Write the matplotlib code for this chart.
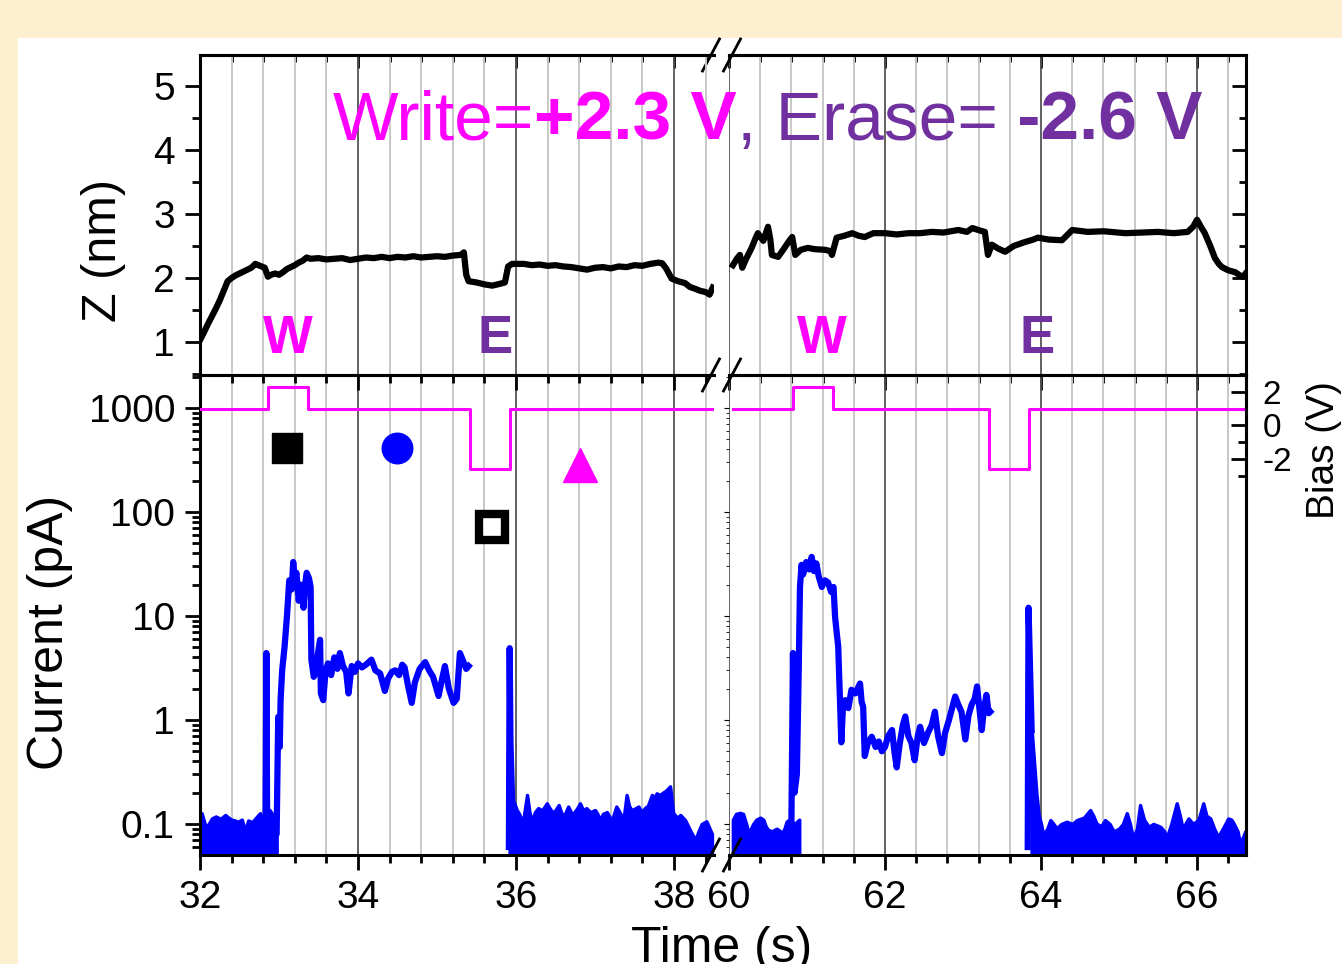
import matplotlib.pyplot as plt
from matplotlib.ticker import MultipleLocator, FixedLocator, LogLocator, NullFormatter, FuncFormatter
from matplotlib.patches import Rectangle
from matplotlib.lines import Line2D

plt.rcParams['font.family'] = ['Liberation Sans', 'DejaVu Sans']

MAG = '#ff00ff'
PUR = '#7030a0'

# ---- data ----
# tip height Z (nm), first time window
z_left_t = [32.00, 32.05, 32.10, 32.15, 32.20, 32.25, 32.30, 32.35, 32.40, 32.45, 32.50, 32.55,
            32.60, 32.65, 32.70, 32.74, 32.78, 32.82, 32.86, 32.90, 32.95, 33.00, 33.05, 33.10,
            33.15, 33.20, 33.25, 33.30, 33.35, 33.40, 33.50, 33.60, 33.70, 33.80, 33.90, 34.00,
            34.10, 34.20, 34.30, 34.40, 34.50, 34.60, 34.70, 34.80, 34.90, 35.00, 35.10, 35.20,
            35.30, 35.34, 35.37, 35.40, 35.50, 35.60, 35.70, 35.80, 35.86, 35.90, 35.95, 36.10,
            36.20, 36.30, 36.40, 36.50, 36.60, 36.70, 36.80, 36.90, 37.00, 37.10, 37.20, 37.30,
            37.40, 37.50, 37.60, 37.70, 37.80, 37.85, 37.90, 37.97, 38.05, 38.14, 38.20, 38.27,
            38.33, 38.40, 38.45, 38.49]
z_left = [1.03, 1.15, 1.28, 1.40, 1.52, 1.65, 1.80, 1.95, 2.00, 2.04, 2.07, 2.10,
          2.13, 2.16, 2.22, 2.20, 2.18, 2.16, 2.02, 2.05, 2.07, 2.05, 2.09, 2.14,
          2.17, 2.20, 2.24, 2.27, 2.32, 2.30, 2.31, 2.29, 2.30, 2.31, 2.28, 2.30,
          2.32, 2.31, 2.33, 2.31, 2.33, 2.32, 2.34, 2.32, 2.33, 2.34, 2.33, 2.35,
          2.36, 2.40, 2.05, 1.95, 1.93, 1.90, 1.88, 1.91, 1.93, 2.18, 2.22, 2.22,
          2.20, 2.21, 2.19, 2.20, 2.18, 2.17, 2.15, 2.13, 2.16, 2.17, 2.15, 2.18,
          2.17, 2.20, 2.19, 2.22, 2.24, 2.23, 2.15, 1.99, 1.95, 1.92, 1.86, 1.83,
          1.80, 1.78, 1.74, 1.85]

# tip height Z (nm), second time window
z_right_t = [60.05, 60.10, 60.14, 60.17, 60.22, 60.29, 60.34, 60.37, 60.44, 60.50, 60.53, 60.55,
             60.63, 60.70, 60.76, 60.81, 60.85, 60.92, 61.01, 61.10, 61.23, 61.30, 61.32, 61.38,
             61.48, 61.58, 61.66, 61.74, 61.85, 62.00, 62.15, 62.30, 62.45, 62.60, 62.75, 62.94,
             63.05, 63.12, 63.22, 63.28, 63.32, 63.37, 63.45, 63.54, 63.65, 63.79, 63.90, 63.96,
             64.10, 64.27, 64.36, 64.40, 64.60, 64.80, 65.08, 65.30, 65.50, 65.70, 65.88, 65.95,
             66.00, 66.05, 66.10, 66.17, 66.23, 66.28, 66.32, 66.40, 66.49, 66.55, 66.59, 66.63]
z_right = [2.20, 2.30, 2.36, 2.16, 2.30, 2.47, 2.62, 2.70, 2.58, 2.80, 2.60, 2.36,
           2.33, 2.45, 2.56, 2.64, 2.36, 2.44, 2.47, 2.45, 2.44, 2.42, 2.36, 2.63,
           2.66, 2.70, 2.66, 2.64, 2.70, 2.70, 2.68, 2.70, 2.70, 2.72, 2.71, 2.75,
           2.72, 2.78, 2.74, 2.72, 2.36, 2.52, 2.46, 2.41, 2.50, 2.56, 2.60, 2.63,
           2.60, 2.59, 2.70, 2.75, 2.72, 2.73, 2.70, 2.71, 2.72, 2.70, 2.72, 2.80,
           2.91, 2.80, 2.70, 2.50, 2.31, 2.22, 2.17, 2.12, 2.09, 2.04, 2.02, 2.08]

# current (pA): noise floor envelopes (trace fills down to the axis)
floor1_t = [32.00, 32.02, 32.07, 32.11, 32.15, 32.20, 32.26, 32.32, 32.36, 32.40, 32.44, 32.48,
            32.53, 32.57, 32.61, 32.66, 32.70, 32.76, 32.80, 32.88, 32.93, 32.97]
floor1 = [0.10, 0.127, 0.094, 0.10, 0.113, 0.118, 0.112, 0.122, 0.115, 0.110, 0.108, 0.105,
          0.110, 0.085, 0.108, 0.104, 0.113, 0.127, 0.110, 0.136, 0.120, 0.127]
floor2_t = [35.92, 35.95, 36.01, 36.04, 36.07, 36.10, 36.14, 36.17, 36.20, 36.24, 36.28, 36.33,
            36.39, 36.43, 36.47, 36.51, 36.54, 36.57, 36.60, 36.63, 36.66, 36.70, 36.73, 36.77,
            36.81, 36.85, 36.89, 36.94, 37.00, 37.03, 37.06, 37.10, 37.15, 37.18, 37.21, 37.24,
            37.27, 37.31, 37.34, 37.37, 37.40, 37.43, 37.46, 37.50, 37.55, 37.59, 37.63, 37.67,
            37.72, 37.75, 37.78, 37.82, 37.86, 37.90, 37.95, 37.99, 38.04, 38.08, 38.14, 38.20,
            38.27, 38.31, 38.35, 38.41, 38.48]
floor2 = [0.20, 0.18, 0.136, 0.125, 0.106, 0.12, 0.19, 0.13, 0.106, 0.13, 0.142, 0.135,
          0.158, 0.14, 0.127, 0.14, 0.152, 0.13, 0.117, 0.13, 0.147, 0.128, 0.127, 0.14,
          0.158, 0.135, 0.142, 0.13, 0.136, 0.125, 0.109, 0.125, 0.13, 0.118, 0.106, 0.125,
          0.147, 0.13, 0.117, 0.125, 0.19, 0.15, 0.136, 0.14, 0.147, 0.13, 0.142, 0.15,
          0.19, 0.18, 0.197, 0.19, 0.20, 0.21, 0.23, 0.127, 0.115, 0.122, 0.109, 0.088,
          0.07, 0.085, 0.10, 0.106, 0.08]
floor3_t = [60.05, 60.09, 60.14, 60.18, 60.22, 60.25, 60.28, 60.31, 60.35, 60.40, 60.44, 60.47,
            60.50, 60.55, 60.61, 60.65, 60.68, 60.71, 60.74, 60.78, 60.84, 60.90]
floor3 = [0.11, 0.125, 0.128, 0.125, 0.10, 0.081, 0.09, 0.10, 0.11, 0.115, 0.11, 0.095,
          0.088, 0.085, 0.09, 0.086, 0.081, 0.09, 0.106, 0.11, 0.10, 0.11]
floor4_t = [63.88, 63.94, 63.97, 64.00, 64.03, 64.08, 64.12, 64.16, 64.20, 64.26, 64.33, 64.40,
            64.46, 64.55, 64.63, 64.67, 64.71, 64.77, 64.82, 64.88, 64.93, 65.00, 65.05, 65.10,
            65.14, 65.18, 65.23, 65.27, 65.32, 65.38, 65.44, 65.53, 65.58, 65.61, 65.67, 65.74,
            65.78, 65.82, 65.85, 65.89, 65.95, 66.02, 66.08, 66.12, 66.17, 66.22, 66.27, 66.33,
            66.40, 66.44, 66.47, 66.52, 66.55, 66.59, 66.62]
floor4 = [0.8, 0.20, 0.122, 0.10, 0.078, 0.09, 0.109, 0.10, 0.091, 0.10, 0.105, 0.10,
          0.109, 0.115, 0.136, 0.12, 0.101, 0.095, 0.109, 0.10, 0.085, 0.09, 0.10, 0.127,
          0.10, 0.073, 0.09, 0.152, 0.11, 0.094, 0.10, 0.094, 0.085, 0.073, 0.10, 0.158,
          0.12, 0.087, 0.10, 0.113, 0.10, 0.11, 0.158, 0.12, 0.113, 0.09, 0.075, 0.09,
          0.113, 0.11, 0.101, 0.085, 0.065, 0.075, 0.085]

# current (pA): traces above the floor (spikes and the high state)
cur1_t = [32.83, 32.84, 32.85, 32.97, 32.99, 33.01, 33.02, 33.04, 33.07, 33.10, 33.13, 33.16,
          33.18, 33.20, 33.22, 33.25, 33.27, 33.29, 33.31, 33.33, 33.35, 33.38, 33.40, 33.41,
          33.44, 33.46, 33.49, 33.52, 33.53, 33.56, 33.59, 33.62, 33.66, 33.70, 33.74, 33.77,
          33.81, 33.85, 33.88, 33.92, 33.96, 34.00, 34.05, 34.10, 34.17, 34.22, 34.28, 34.34,
          34.38, 34.43, 34.47, 34.52, 34.56, 34.59, 34.63, 34.68, 34.72, 34.78, 34.85, 34.90,
          34.95, 35.02, 35.06, 35.10, 35.15, 35.21, 35.25, 35.29, 35.33, 35.37, 35.40]
cur1 = [0.10, 4.4, 0.10, 0.08, 1.07, 0.55, 1.55, 3.0, 5.0, 9.8, 22, 18,
        33, 22, 26, 14, 20, 17, 12, 20, 26, 23, 19, 3.8,
        2.6, 2.8, 4.2, 5.9, 1.8, 1.55, 3.0, 3.5, 2.7, 4.0, 3.1, 4.4,
        3.3, 2.9, 1.8, 3.3, 2.9, 3.5, 3.2, 3.4, 3.8, 3.0, 2.8, 1.9,
        2.5, 2.9, 3.0, 2.7, 3.4, 3.2, 2.2, 1.46, 2.3, 3.1, 3.6, 3.0,
        2.6, 1.7, 2.4, 3.3, 2.0, 1.46, 1.6, 4.4, 3.7, 3.1, 3.3]
cur2_t = [35.91, 35.92, 35.93, 35.95]
cur2 = [0.06, 4.9, 0.6, 0.18]
cur3_t = [60.80, 60.82, 60.84, 60.87, 60.89, 60.91, 60.93, 60.95, 60.99, 61.03, 61.06, 61.09,
          61.12, 61.15, 61.19, 61.23, 61.27, 61.31, 61.34, 61.36, 61.38, 61.40, 61.42, 61.44,
          61.46, 61.49, 61.53, 61.57, 61.62, 61.68, 61.70, 61.72, 61.74, 61.78, 61.83, 61.88,
          61.92, 61.96, 62.00, 62.04, 62.09, 62.12, 62.15, 62.19, 62.23, 62.26, 62.30, 62.34,
          62.38, 62.42, 62.45, 62.50, 62.55, 62.60, 62.64, 62.68, 62.73, 62.77, 62.82, 62.86,
          62.90, 62.94, 62.98, 63.03, 63.07, 63.11, 63.15, 63.18, 63.21, 63.24, 63.27, 63.30,
          63.33, 63.35]
cur3 = [0.10, 4.4, 0.2, 0.3, 2.0, 19, 31, 25, 33, 28, 37, 27,
        32, 24, 19, 22, 21, 17, 19, 9.8, 7.0, 5.1, 1.8, 0.61,
        1.3, 1.55, 1.3, 1.95, 1.8, 2.24, 1.5, 1.34, 0.45, 0.6, 0.69, 0.55,
        0.62, 0.5, 0.55, 0.7, 0.8, 0.5, 0.35, 0.6, 0.9, 1.08, 0.7, 0.6,
        0.41, 0.7, 0.86, 0.6, 0.75, 0.9, 1.2, 0.7, 0.48, 0.75, 1.0, 1.3,
        1.68, 1.4, 1.2, 0.65, 1.1, 1.4, 1.6, 2.1, 1.3, 0.8, 1.3, 1.74,
        1.16, 1.2]
cur4_t = [63.83, 63.84, 63.86, 63.88]
cur4 = [0.06, 12, 3.0, 0.8]

# tip bias (V)
bias_left_t = [32.00, 32.86, 33.37, 35.42, 35.92, 38.50]
bias_left = [1.0, 2.3, 1.0, -2.6, 1.0, 1.0]
bias_right_t = [60.05, 60.82, 61.33, 63.33, 63.85, 66.63]
bias_right = [1.0, 2.3, 1.0, -2.6, 1.0, 1.0]

# state symbols (time s, current pA)
sym_t = [33.10, 34.49, 35.70, 36.81]
sym_i = [412, 412, 72, 283]

# ---- layout ----
W, H = 1342, 964
fig = plt.figure(figsize=(W / 100, H / 100), dpi=100, facecolor='#fdf0d0')
fig.patches.append(Rectangle((18 / W, 0), 1, 1 - 38 / H, transform=fig.transFigure,
                             facecolor='white', edgecolor='none', zorder=-5))


def box(x0, x1, y0, y1):
    return [x0 / W, 1 - y1 / H, (x1 - x0) / W, (y1 - y0) / H]


axz_l = fig.add_axes(box(200, 714, 55, 375))
axz_r = fig.add_axes(box(729, 1246, 55, 375))
axi_l = fig.add_axes(box(200, 714, 375, 855))
axi_r = fig.add_axes(box(729, 1246, 375, 855))
axz_l.set_zorder(2)  # keeps the title text above the right panel's grid

XL = (32, 32 + 514 / 79)
XR = (60, 60 + 517 / 78)

for ax, xl in [(axz_l, XL), (axz_r, XR), (axi_l, XL), (axi_r, XR)]:
    ax.set_facecolor('none')
    ax.set_xlim(*xl)
    ax.set_axisbelow(True)
    ax.xaxis.set_major_locator(MultipleLocator(2))
    ax.xaxis.set_minor_locator(MultipleLocator(0.4))
    ax.grid(which='minor', axis='x', color='#c8c8c8', lw=1.4)
    ax.grid(which='major', axis='x', color='#555555', lw=1.3)
    for s in ax.spines.values():
        s.set_linewidth(2.2)
    ax.tick_params(axis='x', which='both', direction='out', top=False, bottom=True,
                   width=2, labelsize=28, pad=7)
    ax.tick_params(axis='x', which='major', length=11)
    ax.tick_params(axis='x', which='minor', length=6)

for ax in (axz_l, axi_l):
    ax.spines['right'].set_visible(False)
for ax in (axz_r, axi_r):
    ax.spines['left'].set_visible(False)

# top panels: Z
for ax in (axz_l, axz_r):
    ax.set_ylim(0.484, 5.484)
    ax.yaxis.set_major_locator(MultipleLocator(1))
    ax.yaxis.set_minor_locator(MultipleLocator(0.5))
    ax.tick_params(axis='x', labelbottom=False)
    sec = ax.secondary_xaxis('top')
    sec.xaxis.set_major_locator(MultipleLocator(2))
    sec.xaxis.set_minor_locator(MultipleLocator(0.4))
    sec.tick_params(which='both', direction='in', labeltop=False, width=2)
    sec.tick_params(which='major', length=9)
    sec.tick_params(which='minor', length=5)
    sec.spines['top'].set_linewidth(2.2)

axz_l.tick_params(axis='y', which='both', direction='out', left=True, right=False,
                  width=2, labelsize=28, pad=7)
axz_l.tick_params(axis='y', which='major', length=11)
axz_l.tick_params(axis='y', which='minor', length=6)
axz_r.tick_params(axis='y', which='both', direction='in', left=False, right=True,
                  labelleft=False, width=2)
axz_r.tick_params(axis='y', which='major', length=10)
axz_r.tick_params(axis='y', which='minor', length=5)

axz_l.plot(z_left_t, z_left, color='black', lw=4.5, solid_joinstyle='round')
axz_r.plot(z_right_t, z_right, color='black', lw=4.5, solid_joinstyle='round')

# bottom panels: current (log)
for ax in (axi_l, axi_r):
    ax.set_yscale('log')
    ax.set_ylim(0.0503, 2075)
    ax.yaxis.set_major_locator(LogLocator(base=10, numticks=12))
    ax.yaxis.set_minor_locator(LogLocator(base=10, subs=range(2, 10), numticks=12))
    ax.yaxis.set_major_formatter(FuncFormatter(lambda v, p: f'{v:g}'))
    ax.yaxis.set_minor_formatter(NullFormatter())

axi_l.tick_params(axis='y', which='both', direction='out', left=True, right=False,
                  width=2, labelsize=28, pad=7)
axi_l.tick_params(axis='y', which='major', length=11)
axi_l.tick_params(axis='y', which='minor', length=6)
axi_r.tick_params(axis='y', which='both', left=False, right=False, labelleft=False)

for ax, ft, fv in [(axi_l, floor1_t, floor1), (axi_l, floor2_t, floor2),
                   (axi_r, floor3_t, floor3), (axi_r, floor4_t, floor4)]:
    ax.fill_between(ft, fv, 1e-4, color='blue', lw=2.5, edgecolor='blue')
for ax, ct, cv in [(axi_l, cur1_t, cur1), (axi_l, cur2_t, cur2),
                   (axi_r, cur3_t, cur3), (axi_r, cur4_t, cur4)]:
    ax.plot(ct, cv, color='blue', lw=4.5, solid_joinstyle='round')

# bias (right axis)
bl = axi_l.twinx()
br = axi_r.twinx()
for ax in (bl, br):
    ax.set_ylim(-25.64, 3.01)
bl.set_axis_off()
for s in ('left', 'top', 'bottom'):
    br.spines[s].set_visible(False)
br.spines['right'].set_linewidth(2.2)
br.set_yticks([-2, 0, 2], labels=['-2', '0', '2'])
br.yaxis.set_minor_locator(FixedLocator([-3, -1, 1]))
br.tick_params(axis='y', which='both', direction='in', width=2, labelsize=24, pad=12)
br.tick_params(axis='y', which='major', length=11)
br.tick_params(axis='y', which='minor', length=6)
bl.plot(bias_left_t, bias_left, color=MAG, lw=2.2, drawstyle='steps-post')
br.plot(bias_right_t, bias_right, color=MAG, lw=2.2, drawstyle='steps-post')

# state symbols
axi_l.plot(sym_t[0], sym_i[0], 's', ms=21, color='black', zorder=5)
axi_l.plot(sym_t[1], sym_i[1], 'o', ms=22, color='blue', zorder=5)
axi_l.plot(sym_t[2], sym_i[2], 's', ms=19, mfc='white', mec='black', mew=6, zorder=5)
axi_l.plot(sym_t[3], sym_i[3], '^', ms=24, color=MAG, zorder=5)

# W / E labels
axz_l.text(33.11, 0.83, 'W', color=MAG, fontsize=38, fontweight='bold', ha='center', va='baseline')
axz_l.text(35.73, 0.83, 'E', color=PUR, fontsize=38, fontweight='bold', ha='center', va='baseline')
axz_r.text(61.19, 0.83, 'W', color=MAG, fontsize=38, fontweight='bold', ha='center', va='baseline')
axz_r.text(63.95, 0.83, 'E', color=PUR, fontsize=38, fontweight='bold', ha='center', va='baseline')

# title line with mixed styles
t1 = fig.text(333 / W, 1 - 140 / H, 'Write=', color=MAG, fontsize=50, va='baseline')
t2 = axz_l.annotate('+2.3 V', xy=(1, 0), xycoords=t1, va='bottom', ha='left',
                    color=MAG, fontsize=50, fontweight='bold')
t3 = axz_l.annotate(', Erase=', xy=(1, 0), xycoords=t2, va='bottom', ha='left',
                    color=PUR, fontsize=50)
t4 = axz_l.annotate(' -2.6 V', xy=(1, 0), xycoords=t3, va='bottom', ha='left',
                    color=PUR, fontsize=50, fontweight='bold')

# axis labels
fig.text(103 / W, 1 - 250 / H, 'Z (nm)', rotation=90, fontsize=35, ha='center', va='center')
fig.text(50 / W, 1 - 632 / H, 'Current (pA)', rotation=90, fontsize=36, ha='center', va='center')
fig.text(722 / W, 1 - 926 / H, 'Time (s)', fontsize=36, ha='center', va='top')
fig.text(1306 / W, 1 - 450 / H, 'Bias (V)', rotation=90, fontsize=28, ha='left', va='center')

# axis break marks
for yb in (55, 375, 855):
    for xc in (711, 732):
        fig.add_artist(Line2D([(xc - 8.5) / W, (xc + 8.5) / W],
                              [1 - (yb + 16) / H, 1 - (yb - 16) / H],
                              transform=fig.transFigure, color='black', lw=2))

fig.savefig('out.png', dpi=100, facecolor=fig.get_facecolor())
